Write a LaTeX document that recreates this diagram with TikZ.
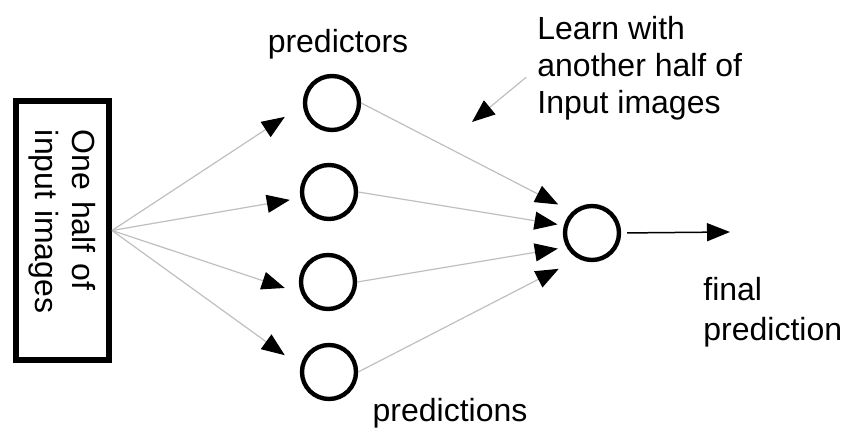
\documentclass[tikz,border=0pt]{standalone}
\usepackage{fontspec}
\setmainfont{Liberation Sans}
\usepackage{tikz}
\usetikzlibrary{positioning, arrows.meta}

\tikzset{
  txt/.style={font=\fontsize{16}{18.5}\selectfont, inner sep=0pt},
  unit/.style={draw, circle, line width=2.2pt, minimum size=27pt, inner sep=0pt},
  feed/.style={-{Triangle[length=11.5pt,width=9pt,color=black]}, draw=black!25, line width=0.6pt},
  outarr/.style={-{Triangle[length=11.5pt,width=9pt]}, draw=black, line width=0.75pt},
}

\begin{document}
\begin{tikzpicture}[x=0.5pt, y=-0.5pt]
\useasboundingbox (0,0) rectangle (845,431);

\node[txt, draw, line width=3pt, rotate=-90, minimum width=129.5pt, minimum height=46.5pt,
      text width=100.5pt, inner xsep=14.5pt, align=left] (half) at (62.5,230.5) {One half of\\input images};

\node[unit] (p1) at (332,103) {};
\node[unit] (p2) at (329,192) {};
\node[unit] (p3) at (328,282) {};
\node[unit] (p4) at (329,372) {};
\node[unit] (fin) at (592,233) {};

\node[txt, anchor=base] (predictors)  at (338,53)  {predictors};
\node[txt, anchor=base] (predictions) at (450,422) {predictions};
\node[txt, anchor=north west, align=left] (learn) at (537,16) {Learn with\\another half of\\Input images};
\node[txt, anchor=north west, align=left, font=\fontsize{16}{20}\selectfont] (final) at (703,277) {final\\prediction};

\coordinate (out) at (730,232);
\coordinate (lrn) at (472,122);

\draw[feed, shorten >=10.8pt] (half.north) -- (p1.184);
\draw[feed, shorten >=5.4pt]  (half.north) -- (p2.192);
\draw[feed, shorten >=8.6pt]  (half.north) -- (p3.203);
\draw[feed, shorten >=9.6pt]  (half.north) -- (p4.169);

\draw[feed, shorten >=7.8pt] (p1.east) -- (fin.133);
\draw[feed, shorten >=3.2pt] (p2.east) -- (fin.165);
\draw[feed, shorten >=4.4pt] (p3.east) -- (fin.209);
\draw[feed, shorten >=11pt]  (p4.east) -- (fin.242);

\draw[outarr, shorten <=3pt] (fin.east) -- (out);
\draw[feed, shorten <=7pt] (learn.west) -- (lrn);
\end{tikzpicture}
\end{document}
